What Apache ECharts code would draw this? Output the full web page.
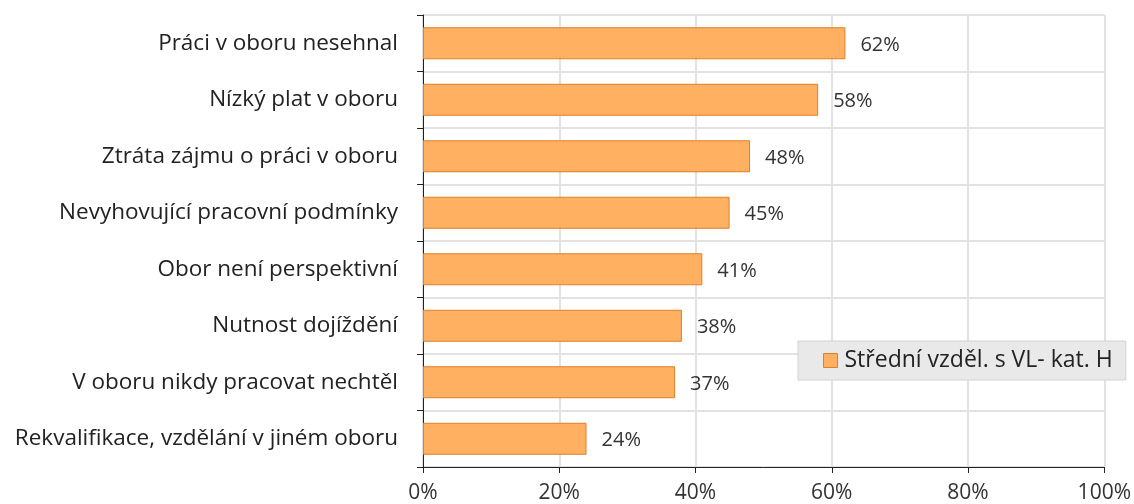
<!DOCTYPE html>
<html><head><meta charset="utf-8">
<script src="https://cdn.jsdelivr.net/npm/echarts@6/dist/echarts.min.js"></script>
<style>html,body{margin:0;padding:0;background:#fff}#c{width:1134px;height:504px}</style>
</head><body><div id="c"></div>
<script>
const categories = ["Práci v oboru nesehnal","Nízký plat v oboru","Ztráta zájmu o práci v oboru","Nevyhovující pracovní podmínky","Obor není perspektivní","Nutnost dojíždění","V oboru nikdy pracovat nechtěl","Rekvalifikace, vzdělání v jiném oboru"];
const values = [62,58,48,45,41,38,37,24];
const seriesName = "Střední vzděl. s VL- kat. H";
const F = "'Open Sans','Noto Sans',sans-serif";
const chart = echarts.init(document.getElementById('c'));
chart.setOption({
  animation:false,
  textStyle:{fontFamily:F},
  grid:{left:423,right:27,top:15,bottom:36},
  legend:{
    data:[seriesName], left:798, top:341,
    padding:[8,13,8,25], backgroundColor:'#e9e9e9', borderColor:'#d2d2d2', borderWidth:1,
    icon:'rect', itemWidth:14,itemHeight:14,itemGap:4,
    itemStyle:{borderColor:'#e07e2a',borderWidth:1},
    textStyle:{fontFamily:F,fontSize:23,color:'#222',padding:[0,0,0,2]}
  },
  xAxis:{type:'value',min:0,max:100,interval:20,
    axisLine:{show:true,lineStyle:{color:'#222',width:1}},
    axisTick:{show:true,length:6,lineStyle:{color:'#222'}},
    axisLabel:{formatter:'{value}%',fontSize:21,color:'#333',margin:16,fontFamily:F},
    splitLine:{show:true,lineStyle:{color:'#e2e2e2',width:2}}
  },
  yAxis:{type:'category',data:categories,inverse:true,
    axisLine:{show:true,lineStyle:{color:'#222',width:1}},
    axisTick:{show:true,length:6,inside:false,lineStyle:{color:'#222'}},
    axisLabel:{fontSize:22.5,color:'#222',margin:25,fontFamily:F},
    splitLine:{show:true,lineStyle:{color:'#e2e2e2',width:2}}
  },
  series:[{name:seriesName,type:'bar',data:values,barWidth:32,
    itemStyle:{color:'#ffb061',borderColor:'#e07e2a',borderWidth:1},
    label:{show:true,position:'right',distance:15,formatter:'{c}%',fontSize:20,color:'#333',fontFamily:F,offset:[0,2]}
  }]
});
</script></body></html>
